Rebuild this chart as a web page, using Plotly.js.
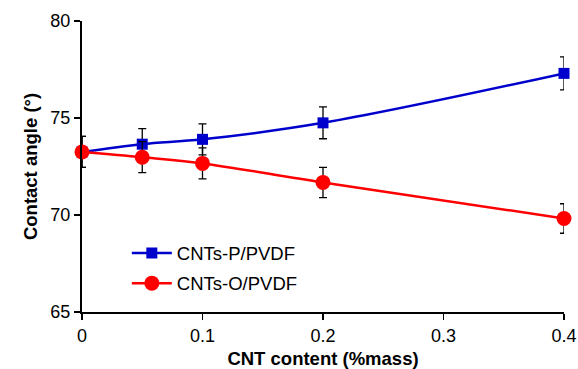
<!DOCTYPE html>
<html>
<head>
<meta charset="utf-8">
<script src="https://cdn.plot.ly/plotly-3.0.1.min.js"></script>
<style>html,body{margin:0;padding:0;background:#fff}#chart{width:578px;height:369px}</style>
</head>
<body>
<div id="chart"></div>
<script>
const content = [0, 0.05, 0.1, 0.2, 0.4];
const cntsP = [73.25, 73.65, 73.9, 74.75, 77.3];
const cntsPErr = [0.8, 0.8, 0.8, 0.82, 0.85];
const cntsO = [73.25, 72.98, 72.66, 71.68, 69.82];
const cntsOErr = [0.8, 0.8, 0.8, 0.78, 0.76];
const xTicks = [0, 0.1, 0.2, 0.3, 0.4];
const yTicks = [65, 70, 75, 80];

const traces = [
  {
    x: content, y: cntsP, name: 'CNTs-P/PVDF', type: 'scatter', mode: 'lines+markers',
    legendgroup: 'a',
    line: {color: '#0000CC', width: 2.5, shape: 'spline'},
    marker: {symbol: 'square', size: 11, color: '#0000CC'},
    error_y: {type: 'data', array: cntsPErr, visible: true, color: '#000', thickness: 1.3, width: 4},
    cliponaxis: false
  },
  {
    x: content, y: cntsO, name: 'CNTs-O/PVDF', type: 'scatter', mode: 'lines+markers',
    legendgroup: 'b',
    line: {color: '#FF0000', width: 2.5, shape: 'spline'},
    marker: {symbol: 'circle', size: 15, color: '#FF0000'},
    error_y: {type: 'data', array: cntsOErr, visible: true, color: '#000', thickness: 1.3, width: 4},
    cliponaxis: false
  }
];

const layout = {
  width: 578, height: 369,
  margin: {l: 82, r: 14, t: 21, b: 57},
  paper_bgcolor: '#fff', plot_bgcolor: '#fff',
  font: {family: 'Arial, Liberation Sans, sans-serif', color: '#000', size: 18},
  showlegend: true,
  legend: {
    x: 0.093, y: 0.266, xanchor: 'left', yanchor: 'top',
    font: {size: 18.5, color: '#000'},
    traceorder: 'grouped', tracegroupgap: 3, itemwidth: 40,
    bgcolor: 'rgba(0,0,0,0)'
  },
  xaxis: {
    range: [0, 0.4], tickvals: xTicks, ticktext: xTicks.map(String),
    showgrid: false, zeroline: false, showline: true, linecolor: '#000', linewidth: 2,
    ticks: 'outside', ticklen: 6, tickwidth: 1.5, tickcolor: '#000',
    tickfont: {size: 18},
    title: {text: '<b>CNT content (%mass)</b>', font: {size: 18.5}, standoff: 8}
  },
  yaxis: {
    range: [65, 80], tickvals: yTicks, ticktext: yTicks.map(String),
    showgrid: false, zeroline: false, showline: true, linecolor: '#000', linewidth: 2,
    ticks: 'outside', ticklen: 6, tickwidth: 1.5, tickcolor: '#000',
    tickfont: {size: 18},
    title: {text: '<b>Contact angle (°)</b>', font: {size: 18.5}, standoff: 8}
  }
};

Plotly.newPlot('chart', traces, layout, {displayModeBar: false, staticPlot: true});
</script>
</body>
</html>
